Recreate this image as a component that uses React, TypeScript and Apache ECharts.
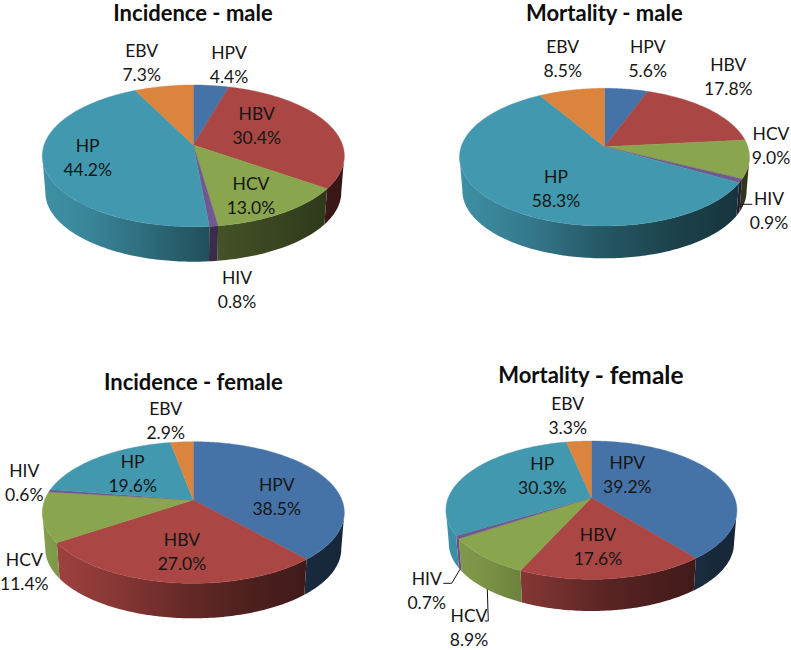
import React, { useEffect, useRef } from "react";
import * as echarts from "echarts";

const agents = ["HPV", "HBV", "HCV", "HIV", "HP", "EBV"];
const incidenceMale = [4.4, 30.4, 13.0, 0.8, 44.2, 7.3];
const mortalityMale = [5.6, 17.8, 9.0, 0.9, 58.3, 8.5];
const incidenceFemale = [38.5, 27.0, 11.4, 0.6, 19.6, 2.9];
const mortalityFemale = [39.2, 17.6, 8.9, 0.7, 30.3, 3.3];

const sliceColors = ["#4572A7", "#AA4643", "#89A54E", "#71588F", "#4198AF", "#DB843D"];
const FONT = "Lato";
const LABEL_SIZE = 17.5;

type Layout = {
  title: string; titleX: number; titleY: number; values: number[];
  cx: number; apexY: number; ext: number; up: number; down: number; depth: number;
  labels: number[][]; leaders: number[][][];
};

const charts: Layout[] = [
  {
    title: "Incidence - male", titleX: 193, titleY: 12, values: incidenceMale,
    cx: 193.3, apexY: 145, ext: 151, up: 60, down: 81.7, depth: 35,
    labels: [[229, 64], [256.7, 125], [251, 195], [237, 289], [87.7, 157], [141.7, 62]],
    leaders: [],
  },
  {
    title: "Mortality - male", titleX: 604.3, titleY: 12, values: mortalityMale,
    cx: 604.5, apexY: 146.7, ext: 145, up: 58.4, down: 79.3, depth: 32.3,
    labels: [[647.7, 58.3], [728.3, 76.7], [771, 145], [769, 210.7], [556, 188.3], [562.7, 58.3]],
    leaders: [[[752.3, 204.3], [742, 204.3], [738, 208]]],
  },
  {
    title: "Incidence - female", titleX: 193.3, titleY: 381, values: incidenceFemale,
    cx: 193.3, apexY: 500, ext: 151, up: 58.3, down: 83.3, depth: 35,
    labels: [[276.7, 496], [182, 551.7], [24.3, 571.7], [24.3, 482.7], [132.7, 473.3], [165.7, 420]],
    leaders: [],
  },
  {
    title: "Mortality {b|- female}", titleX: 590.7, titleY: 373, values: mortalityFemale,
    cx: 591.4, apexY: 497.7, ext: 145.5, up: 56.7, down: 81.6, depth: 31.7,
    labels: [[627.3, 474], [598, 546.7], [469, 627.7], [426.7, 590], [542.3, 475], [567.7, 415]],
    leaders: [
      [[443.3, 583.3], [451.7, 583.3], [460, 569.3]],
      [[487.3, 589.3], [488.3, 621], [484.5, 621]],
    ],
  },
];

const BOTTOM_SCALE = 0.98;
const shade: number[][] = [[0, 0.95], [0.15, 0.88], [0.33, 0.72], [0.55, 0.52], [0.85, 0.38], [1, 0.33]];

function brightness(t: number) {
  for (let i = 1; i < shade.length; i++) {
    if (t <= shade[i][0]) {
      const [t0, b0] = shade[i - 1];
      const [t1, b1] = shade[i];
      return b0 + ((b1 - b0) * (t - t0)) / (t1 - t0);
    }
  }
  return shade[shade.length - 1][1];
}
function darken(hex: string, b: number) {
  const n = parseInt(hex.slice(1), 16);
  const c = [(n >> 16) & 255, (n >> 8) & 255, n & 255].map((v) => Math.round(v * b));
  return `rgb(${c[0]},${c[1]},${c[2]})`;
}

function projector(l: Layout) {
  const k = (l.down - l.up) / (l.down + l.up);
  const S = l.up * (1 + k);
  const R = l.ext * Math.sqrt(1 - k * k);
  const top = (deg: number) => {
    const a = (deg * Math.PI) / 180;
    const w = 1 + k * Math.cos(a);
    return [l.cx + (R * Math.sin(a)) / w, l.apexY - (S * Math.cos(a)) / w];
  };
  const shift = l.depth + l.down * (1 - BOTTOM_SCALE);
  const bottom = (deg: number) => {
    const [x, y] = top(deg);
    return [l.cx + (x - l.cx) * BOTTOM_SCALE, l.apexY + (y - l.apexY) * BOTTOM_SCALE + shift];
  };
  const frontStart = (Math.acos(-k) * 180) / Math.PI;
  return { top, bottom, frontStart, frontEnd: 360 - frontStart };
}

function sliceAngles(values: number[]) {
  const total = values.reduce((a, b) => a + b, 0);
  let acc = 0;
  return values.map((v) => {
    const start = (acc / total) * 360;
    acc += v;
    return [start, (acc / total) * 360];
  });
}

function arc(from: number, to: number, fn: (d: number) => number[]) {
  const n = Math.max(2, Math.ceil(to - from));
  const pts: number[][] = [];
  for (let i = 0; i <= n; i++) pts.push(fn(from + ((to - from) * i) / n));
  return pts;
}

function buildSeries(l: Layout) {
  const p = projector(l);
  const angles = sliceAngles(l.values);
  const sides = {
    type: "custom", coordinateSystem: "none", silent: true, data: l.values, z: 2,
    renderItem: (params: any) => {
      const [a, b] = angles[params.dataIndex];
      const s = Math.max(a, p.frontStart);
      const e = Math.min(b, p.frontEnd);
      if (e <= s) return null;
      const upper = arc(s, e, p.top);
      const lower = arc(s, e, p.bottom).reverse();
      const pts = upper.concat(lower);
      const xs = pts.map((q) => q[0]);
      const x0 = Math.min(...xs);
      const x1 = Math.max(...xs);
      const color = sliceColors[params.dataIndex];
      const stops = [0, 0.25, 0.5, 0.75, 1].map((f) => {
        const t = (x0 + (x1 - x0) * f - (l.cx - l.ext)) / (2 * l.ext);
        return { offset: f, color: darken(color, brightness(t)) };
      });
      return {
        type: "polygon",
        shape: { points: pts },
        style: {
          fill: { type: "linear", x: 0, y: 0, x2: 1, y2: 0, colorStops: stops },
        },
      };
    },
  };
  const tops = {
    type: "custom", coordinateSystem: "none", silent: true, data: l.values, z: 3,
    renderItem: (params: any) => {
      const [a, b] = angles[params.dataIndex];
      const pts = [[l.cx, l.apexY]].concat(arc(a, b, p.top));
      const color = sliceColors[params.dataIndex];
      return {
        type: "polygon",
        shape: { points: pts },
        style: { fill: color, stroke: color, lineWidth: 0.4 },
      };
    },
  };
  const labels = {
    type: "custom", coordinateSystem: "none", silent: true, data: l.values, z: 5,
    renderItem: (params: any, api: any) => {
      const i = params.dataIndex;
      const [x, y] = l.labels[i];
      return {
        type: "text",
        style: {
          x, y,
          text: `${agents[i]}\n${Number(api.value(0)).toFixed(1)}%`,
          fill: "#161616",
          fontFamily: FONT,
          fontSize: LABEL_SIZE,
          lineHeight: 24,
          align: "center",
          verticalAlign: "middle",
        },
      };
    },
  };
  return [sides, tops, labels];
}

export default function App() {
  const ref = useRef<HTMLDivElement>(null);
  useEffect(() => {
    const chart = echarts.init(ref.current!, undefined, { renderer: "svg" });
    const leaderElements = charts.flatMap((c) =>
      c.leaders.map((pts) => ({
        type: "polyline",
        shape: { points: pts },
        style: { stroke: "#111", lineWidth: 1, fill: "none" },
        z: 6,
      }))
    );
    chart.setOption({
      animation: false,
      backgroundColor: "#ffffff",
      title: charts.map((c) => ({
        text: c.title,
        left: c.titleX,
        top: c.titleY - 11,
        padding: 0,
        textAlign: "center",
        textStyle: {
          fontFamily: FONT,
          fontWeight: "bold",
          fontSize: 22,
          color: "#0d0d0d",
          rich: { b: { fontFamily: FONT, fontWeight: "bold", fontSize: 24.5, color: "#0d0d0d" } },
        },
      })),
      graphic: leaderElements,
      series: charts.flatMap(buildSeries),
    });
    return () => chart.dispose();
  }, []);
  return <div ref={ref} style={{ position: "absolute", left: 0, top: 0, width: 791, height: 650 }} />;
}
